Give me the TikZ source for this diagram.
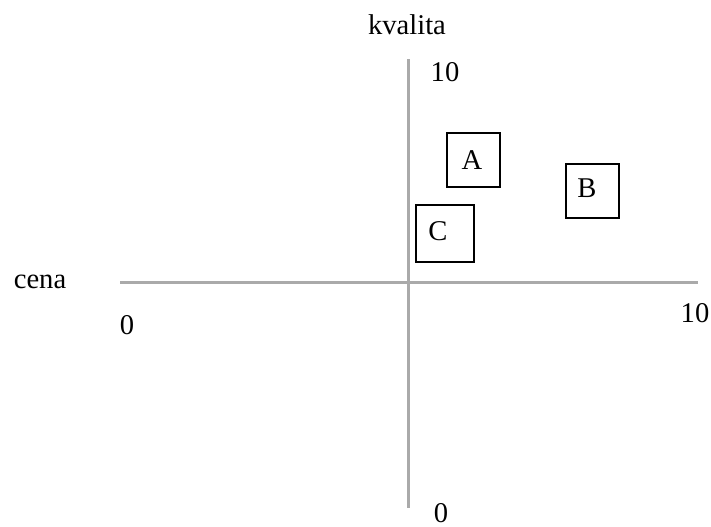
\documentclass[tikz,border=0pt]{standalone}
\usepackage{fontspec}
\setmainfont{Liberation Serif}
\usetikzlibrary{positioning}
\definecolor{axisgray}{RGB}{170,170,170}

\begin{document}
\begin{tikzpicture}[
        x=0.5pt, y=-0.5pt,
        every node/.style={font=\fontsize{14.3}{17}\selectfont},
        axis/.style={draw=axisgray, line width=1.5pt},
        brandbox/.style={rectangle, draw=black, line width=1pt, minimum width=26.5pt, minimum height=27pt, inner sep=0pt},
        lbl/.style={inner sep=0pt}
    ]
    \useasboundingbox (0,0) rectangle (711,526);

    % Axes
    \coordinate (xl) at (120,282);
    \coordinate (xr) at (698,282);
    \coordinate (yt) at (408,59);
    \coordinate (yb) at (408,508);
    \draw[axis] (xl) -- (xr);
    \draw[axis] (yt) -- (yb);

    % Axis labels
    \node[lbl] (kvalita) at (407,25) {kvalita};
    \node[lbl] (cena) at (40,282) {cena};
    \node[lbl] (ytop) at (445,72) {10};
    \node[lbl] (ybot) at (441,513) {0};
    \node[lbl] (xleft) at (127,325) {0};
    \node[lbl] (xright) at (695,313) {10};

    % Brands
    \node[brandbox] (boxA) at (473.5,160) {};
    \node[brandbox] (boxB) at (592.5,190.5) {};
    \node[brandbox, minimum width=29pt, minimum height=28.5pt] (boxC) at (445,233.5) {};
    \node[lbl] (A) at (472,160) {A};
    \node[lbl] (B) at (587,188) {B};
    \node[lbl] (C) at (438,231) {C};

\end{tikzpicture}
\end{document}
